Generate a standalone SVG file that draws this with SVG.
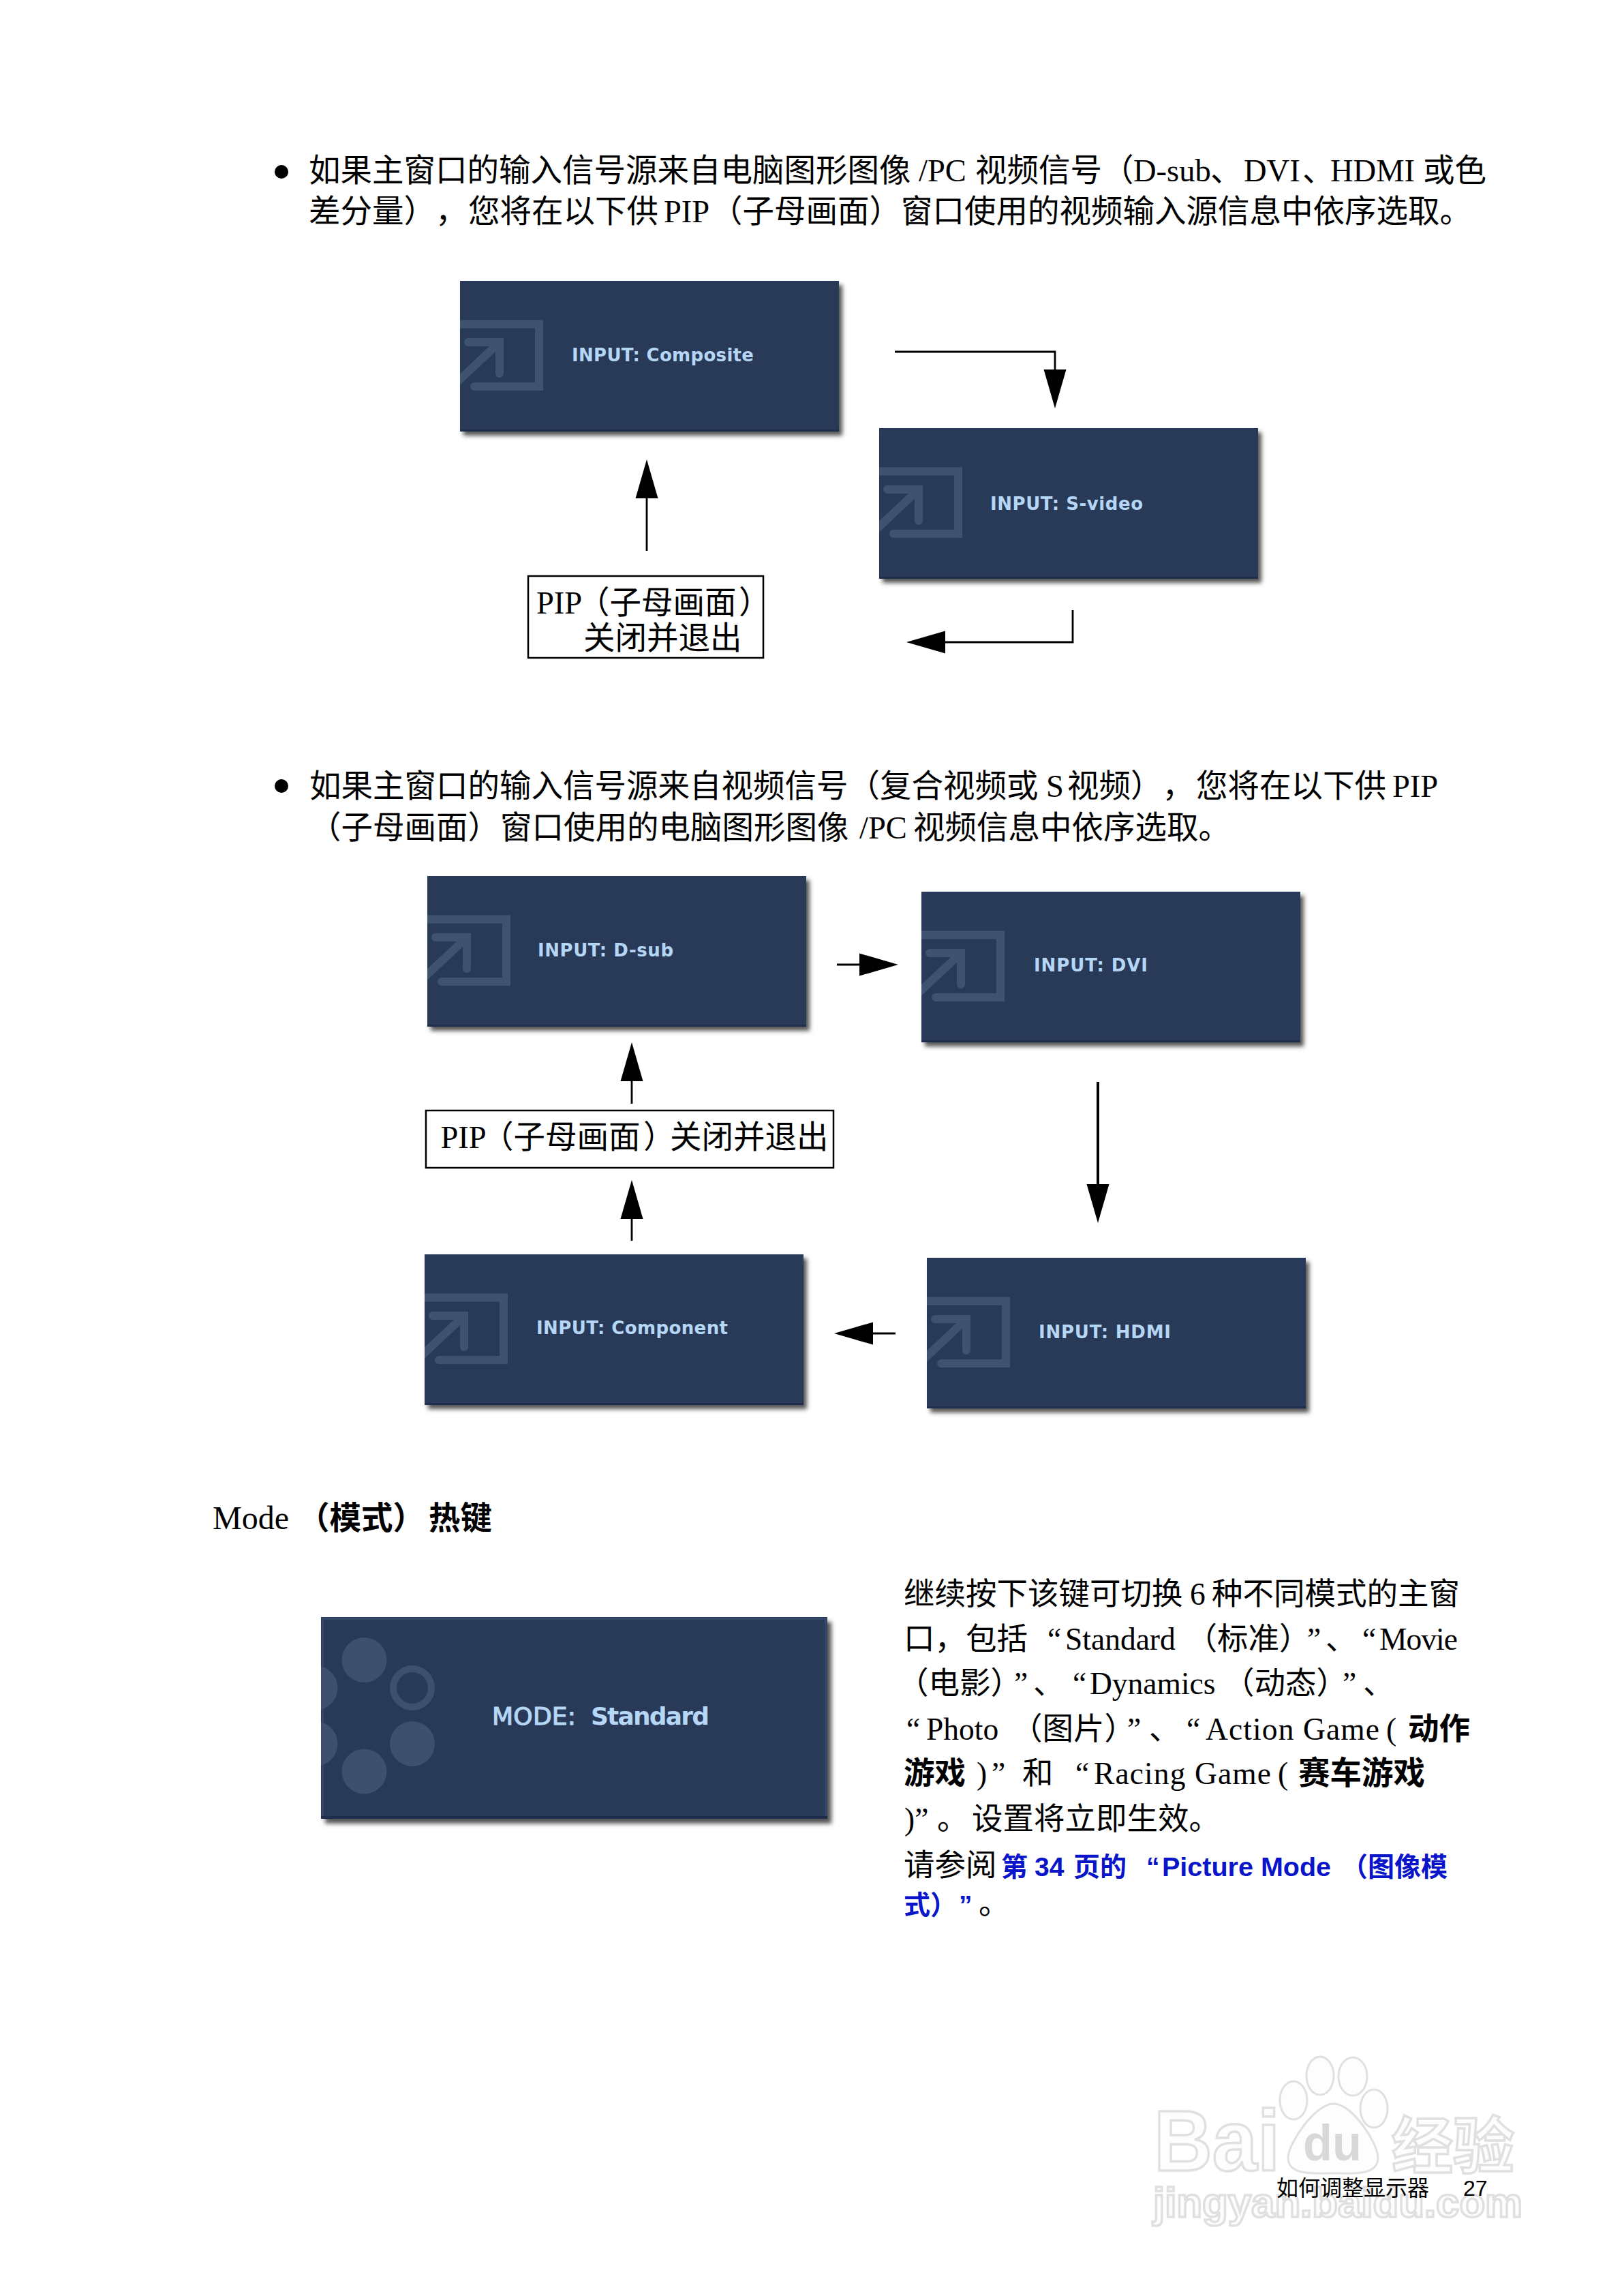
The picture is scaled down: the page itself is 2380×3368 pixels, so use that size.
<svg xmlns="http://www.w3.org/2000/svg" width="2380" height="3368" viewBox="0 0 2380 3368">
<style>
text{font-family:"Liberation Serif","Noto Sans CJK SC",serif;fill:#000;text-spacing-trim:space-all}
.p{font-size:46.5px}
.d{font-size:45.5px}
.b{font-weight:bold}
.pl{font-family:"DejaVu Sans",sans-serif;font-size:26px;font-weight:bold;fill:#b5d6f5}
.ml{font-family:"DejaVu Sans",sans-serif;font-size:36px;font-weight:bold;fill:#b5d6f5}
.mn{font-weight:normal;stroke:#b5d6f5;stroke-width:1.2}
.lk{font-family:"Liberation Sans","Noto Sans CJK SC",sans-serif;font-weight:bold;font-size:39px;fill:#0a14c8}
.ft{font-family:"Liberation Sans","Noto Sans CJK SC",sans-serif;font-size:32px}
.wm{font-family:"Liberation Sans","Noto Sans CJK SC",sans-serif;font-weight:bold;fill:#fdfdfd;stroke:#e0e0e0;stroke-width:3.500}
.wd{font-family:"Liberation Sans",sans-serif;font-size:74px;font-weight:bold;fill:#d8d8d8}
.arr{fill:none;stroke:#000;stroke-width:2.8;marker-end:url(#ah)}
.ic{fill:none;stroke:#3f5270;stroke-width:12;stroke-linecap:round}
.box{fill:#fff;stroke:#000;stroke-width:2.500}
.pan{fill:#293a58}
.sh{fill:#555;filter:url(#bl)}
.wl{fill:#fdfdfd;stroke:#e0e0e0;stroke-width:3}
</style>
<defs>
<filter id="bl" x="-5%" y="-5%" width="110%" height="110%"><feGaussianBlur stdDeviation="3"/></filter>
<marker id="ah" markerUnits="userSpaceOnUse" markerWidth="62" markerHeight="36" refX="4" refY="18" orient="auto"><path d="M4 1.500L61 18L4 34.500Z" fill="#000"/></marker>
<clipPath id="cp"><rect width="556" height="221"/></clipPath>
<clipPath id="cm"><rect width="743" height="296"/></clipPath>
<g id="inp">
<rect class="sh" x="5" y="6" width="556" height="221"/>
<rect class="pan" width="556" height="221"/>
<rect y="218" width="556" height="3" fill="#1e2e4c"/>
<g clip-path="url(#cp)">
<path class="ic" d="M-8 63.500H116V155H21"/>
<path class="ic" d="M-8 152L58 90M12 90H58V136"/>
</g>
</g>
</defs>
<g id="bullets"><circle cx="413" cy="252" r="10"/><circle cx="413" cy="1153" r="10"/></g>
<g id="para1">
<text class="p" y="266"><tspan x="453">如果主窗口的输入信号源来自电脑图形图像</tspan><tspan x="1348">/PC</tspan><tspan x="1431">视频信号（</tspan><tspan x="1663">D-sub</tspan><tspan x="1776">、</tspan><tspan x="1825">DVI</tspan><tspan x="1911">、</tspan><tspan x="1952">HDMI</tspan><tspan x="2088">或色</tspan></text>
<text class="p" y="326"><tspan x="453">差分量），</tspan><tspan x="687">您将在以下供</tspan><tspan x="974">PIP</tspan><tspan x="1043">（子母画面）</tspan><tspan x="1322">窗口使用的视频输入源信息中依序选取。</tspan></text>
</g>
<g id="para2">
<text class="p" y="1169"><tspan x="454">如果主窗口的输入信号源来自视频信号（复合视频或</tspan><tspan x="1535">S</tspan><tspan x="1566">视频），</tspan><tspan x="1755">您将在以下供</tspan><tspan x="2043">PIP</tspan></text>
<text class="p" y="1230"><tspan x="454">（子母画面）</tspan><tspan x="734">窗口使用的电脑图形图像</tspan><tspan x="1261">/PC</tspan><tspan x="1340">视频信息中依序选取。</tspan></text>
</g>
<g id="n-composite" transform="translate(675,412)"><use href="#inp"/><text class="pl" x="164" y="118" textLength="267">INPUT: Composite</text></g>
<g id="n-svideo" transform="translate(1290,628)"><use href="#inp"/><text class="pl" x="163" y="120" textLength="224">INPUT: S-video</text></g>
<g id="n-dsub" transform="translate(627,1285)"><use href="#inp"/><text class="pl" x="162" y="118" textLength="199">INPUT: D-sub</text></g>
<g id="n-dvi" transform="translate(1352,1308)"><use href="#inp"/><text class="pl" x="165" y="117" textLength="167">INPUT: DVI</text></g>
<g id="n-component" transform="translate(623,1840)"><use href="#inp"/><text class="pl" x="164" y="117" textLength="281">INPUT: Component</text></g>
<g id="n-hdmi" transform="translate(1360,1845)"><use href="#inp"/><text class="pl" x="164" y="118" textLength="194">INPUT: HDMI</text></g>
<g id="n-pip1"><rect class="box" x="775" y="845" width="345" height="120"/>
<text class="p" y="900"><tspan x="787">PIP</tspan><tspan x="848">（子母画面</tspan><tspan x="1084">）</tspan></text><text class="p" x="856" y="952">关闭并退出</text></g>
<g id="n-pip2"><rect class="box" x="625" y="1629" width="598" height="84"/>
<text class="p" y="1684"><tspan x="646.500">PIP</tspan><tspan x="707">（子母画面</tspan><tspan x="944">）</tspan><tspan x="983">关闭并退出</tspan></text></g>
<g id="connectors">
<path class="arr" d="M1313 516H1548V542"/>
<path class="arr" d="M949 808V731"/>
<path class="arr" d="M1574 895V942H1387"/>
<path class="arr" d="M1228 1415H1261"/>
<path class="arr" style="stroke-width:4" d="M1611 1587V1737"/>
<path class="arr" d="M1314 1956H1281"/>
<path class="arr" d="M927 1820V1788"/>
<path class="arr" d="M927 1619V1586"/>
</g>
<g id="mode-head"><text class="p" y="2243"><tspan x="312" style="font-size:48px">Mode</tspan><tspan class="b" x="437">（模式）</tspan><tspan class="b" x="629">热键</tspan></text></g>
<g id="n-mode" transform="translate(471,2372)">
<rect class="sh" x="6" y="7" width="743" height="296"/>
<rect class="pan" width="743" height="296"/>
<rect x="2.500" y="2.500" width="738" height="291" fill="none" stroke="#34486a" stroke-width="3"/>
<rect y="292" width="743" height="4" fill="#1e2e4c"/>
<g clip-path="url(#cm)" fill="#3d506e">
<circle cx="63.500" cy="63" r="33"/><circle cx="-8.500" cy="104" r="33"/><circle cx="134" cy="104" r="28" fill="none" stroke="#3d506e" stroke-width="10"/><circle cx="-8.500" cy="186" r="33"/><circle cx="134" cy="186" r="33"/><circle cx="63.500" cy="226.500" r="33"/>
</g>
<text class="ml" y="158"><tspan class="mn" x="251" textLength="123">MODE:</tspan><tspan x="396" textLength="174">Standard</tspan></text>
</g>
<g id="desc">
<text class="d" y="2354"><tspan x="1326">继续按下该键可切换</tspan><tspan x="1746">6</tspan><tspan x="1778">种不同模式的主窗</tspan></text>
<text class="d" y="2420"><tspan x="1326">口，包括</tspan><tspan x="1537">“</tspan><tspan x="1563">Standard</tspan><tspan x="1740.500">（标准）</tspan><tspan x="1918">”</tspan><tspan x="1945">、</tspan><tspan x="1999">“</tspan><tspan x="2024" textLength="115">Movie</tspan></text>
<text class="d" y="2485"><tspan x="1317">（电影）</tspan><tspan x="1488">”</tspan><tspan x="1516">、</tspan><tspan x="1574">“</tspan><tspan x="1599">Dynamics</tspan><tspan x="1795">（动态）</tspan><tspan x="1970">”</tspan><tspan x="2000">、</tspan></text>
<text class="d" y="2552"><tspan x="1330">“</tspan><tspan x="1359">Photo</tspan><tspan x="1484">（图片）</tspan><tspan x="1654">”</tspan><tspan x="1686">、</tspan><tspan x="1741">“</tspan><tspan x="1769" textLength="255">Action Game</tspan><tspan x="2034">(</tspan><tspan class="b" x="2066">动作</tspan></text>
<text class="d" y="2617"><tspan class="b" x="1326">游戏</tspan><tspan x="1433">)</tspan><tspan x="1455">”</tspan><tspan x="1500">和</tspan><tspan x="1578">“</tspan><tspan x="1605" textLength="260">Racing Game</tspan><tspan x="1875">(</tspan><tspan class="b" x="1905" style="font-size:46.500px">赛车游戏</tspan></text>
<text class="d" y="2684"><tspan x="1327">)”</tspan><tspan x="1375">。</tspan><tspan x="1426">设置将立即生效。</tspan></text>
<text class="d" y="2752"><tspan x="1326">请参阅</tspan><tspan class="lk" x="1469">第</tspan><tspan class="lk" x="1518">34</tspan><tspan class="lk" x="1575">页的</tspan><tspan class="lk" x="1682">“</tspan><tspan class="lk" x="1705" style="font-size:39.500px">Picture Mode</tspan><tspan class="lk" x="1968">（图像模</tspan></text>
<text class="d" y="2808"><tspan class="lk" x="1326">式）</tspan><tspan class="lk" x="1407">”</tspan><tspan x="1436">。</tspan></text>
</g>
<g id="watermark">
<text class="wm" x="1693" y="3184" font-size="126" textLength="185" lengthAdjust="spacingAndGlyphs">Bai</text>
<ellipse class="wl" cx="1898" cy="3081" rx="20" ry="28"/><ellipse class="wl" cx="1937" cy="3045" rx="20" ry="28"/><ellipse class="wl" cx="1985" cy="3046" rx="21" ry="28"/><ellipse class="wl" cx="2016" cy="3093" rx="20" ry="28"/>
<path class="wl" d="M1957 3086C1985 3086 2022 3145 2022 3165C2022 3192 1985 3188 1957 3188C1929 3188 1890 3192 1890 3165C1890 3145 1929 3086 1957 3086Z"/>
<text class="wd" x="1912" y="3169" textLength="86" lengthAdjust="spacingAndGlyphs">du</text>
<text class="wm" x="2042" y="3180" font-size="90">经验</text>
<text class="wm" x="1692" y="3252" font-size="62" textLength="542" lengthAdjust="spacingAndGlyphs">jingyan.baidu.com</text>
</g>
<g id="footer"><text class="ft" x="1873" y="3221">如何调整显示器</text><text class="ft" x="2147" y="3221">27</text></g>
</svg>
